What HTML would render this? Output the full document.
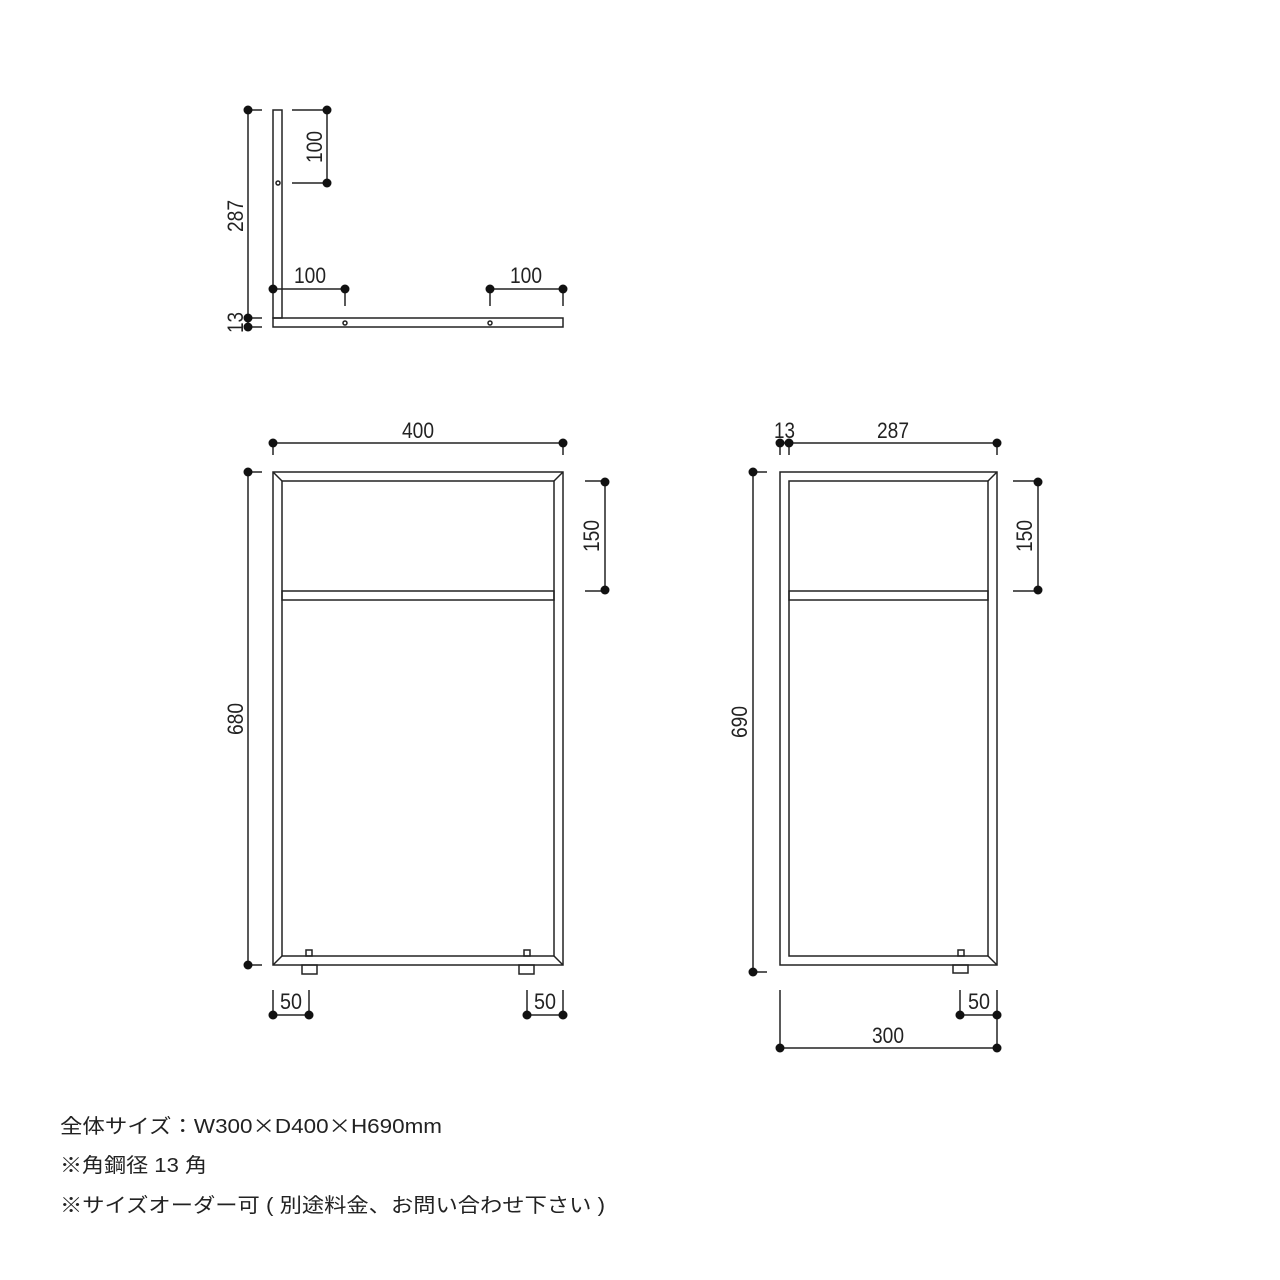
<!DOCTYPE html>
<html><head><meta charset="utf-8"><style>
html,body{margin:0;padding:0;background:#fff;}
svg{display:block;}
text{font-family:"Liberation Sans","Noto Sans CJK JP",sans-serif;fill:#222;}
.cjk{font-family:"Noto Sans CJK JP",sans-serif;}
</style></head><body>
<svg width="1280" height="1280" viewBox="0 0 1280 1280" xmlns="http://www.w3.org/2000/svg">
<g stroke="#222" stroke-width="1.5" fill="none">
<rect x="273" y="110" width="9" height="208"/>
<rect x="273" y="318" width="290" height="9"/>
<circle cx="278" cy="183" r="2"/>
<circle cx="345" cy="323" r="2"/>
<circle cx="490" cy="323" r="2"/>
<line x1="248" y1="110" x2="248" y2="327"/>
<line x1="248" y1="110" x2="262" y2="110"/>
<line x1="248" y1="318" x2="262" y2="318"/>
<line x1="248" y1="327" x2="262" y2="327"/>
<line x1="327" y1="110" x2="327" y2="183"/>
<line x1="292" y1="110" x2="327" y2="110"/>
<line x1="292" y1="183" x2="327" y2="183"/>
<line x1="273" y1="289" x2="345" y2="289"/>
<line x1="345" y1="289" x2="345" y2="306"/>
<line x1="490" y1="289" x2="563" y2="289"/>
<line x1="490" y1="289" x2="490" y2="306"/>
<line x1="563" y1="289" x2="563" y2="306"/>

<rect x="273" y="472" width="290" height="493"/>
<rect x="282" y="481" width="272" height="475"/>
<line x1="273" y1="472" x2="282" y2="481"/>
<line x1="563" y1="472" x2="554" y2="481"/>
<line x1="273" y1="965" x2="282" y2="956"/>
<line x1="563" y1="965" x2="554" y2="956"/>
<rect x="282" y="591" width="272" height="9"/>
<rect x="302" y="965" width="15" height="9"/>
<rect x="306" y="950" width="6" height="6"/>
<rect x="519" y="965" width="15" height="9"/>
<rect x="524" y="950" width="6" height="6"/>
<line x1="273" y1="443" x2="563" y2="443"/>
<line x1="273" y1="443" x2="273" y2="455"/>
<line x1="563" y1="443" x2="563" y2="455"/>
<line x1="248" y1="472" x2="248" y2="965"/>
<line x1="248" y1="472" x2="262" y2="472"/>
<line x1="248" y1="965" x2="262" y2="965"/>
<line x1="605" y1="481" x2="605" y2="591"/>
<line x1="585" y1="481" x2="605" y2="481"/>
<line x1="585" y1="591" x2="605" y2="591"/>
<line x1="273" y1="1015" x2="309" y2="1015"/>
<line x1="273" y1="990" x2="273" y2="1015"/>
<line x1="309" y1="990" x2="309" y2="1015"/>
<line x1="527" y1="1015" x2="563" y2="1015"/>
<line x1="527" y1="990" x2="527" y2="1015"/>
<line x1="563" y1="990" x2="563" y2="1015"/>

<rect x="780" y="472" width="217" height="493"/>
<rect x="789" y="481" width="199" height="475"/>
<line x1="997" y1="472" x2="988" y2="481"/>
<line x1="997" y1="965" x2="988" y2="956"/>
<rect x="789" y="591" width="199" height="9"/>
<rect x="953" y="965" width="15" height="8"/>
<rect x="958" y="950" width="6" height="6"/>
<line x1="780" y1="443" x2="997" y2="443"/>
<line x1="780" y1="443" x2="780" y2="455"/>
<line x1="789" y1="443" x2="789" y2="455"/>
<line x1="997" y1="443" x2="997" y2="455"/>
<line x1="753" y1="472" x2="753" y2="972"/>
<line x1="753" y1="472" x2="767" y2="472"/>
<line x1="753" y1="972" x2="767" y2="972"/>
<line x1="1038" y1="481" x2="1038" y2="591"/>
<line x1="1013" y1="481" x2="1038" y2="481"/>
<line x1="1013" y1="591" x2="1038" y2="591"/>
<line x1="960" y1="1015" x2="997" y2="1015"/>
<line x1="960" y1="990" x2="960" y2="1015"/>
<line x1="997" y1="990" x2="997" y2="1048"/>
<line x1="780" y1="1048" x2="997" y2="1048"/>
<line x1="780" y1="990" x2="780" y2="1048"/>
</g>
<g fill="#111">
<circle cx="248" cy="110" r="4.5"/><circle cx="248" cy="318" r="4.5"/><circle cx="248" cy="327" r="4.5"/>
<circle cx="327" cy="110" r="4.5"/><circle cx="327" cy="183" r="4.5"/>
<circle cx="273" cy="289" r="4.5"/><circle cx="345" cy="289" r="4.5"/>
<circle cx="490" cy="289" r="4.5"/><circle cx="563" cy="289" r="4.5"/>
<circle cx="273" cy="443" r="4.5"/><circle cx="563" cy="443" r="4.5"/>
<circle cx="248" cy="472" r="4.5"/><circle cx="248" cy="965" r="4.5"/>
<circle cx="605" cy="482" r="4.5"/><circle cx="605" cy="590" r="4.5"/>
<circle cx="273" cy="1015" r="4.5"/><circle cx="309" cy="1015" r="4.5"/>
<circle cx="527" cy="1015" r="4.5"/><circle cx="563" cy="1015" r="4.5"/>
<circle cx="780" cy="443" r="4.5"/><circle cx="789" cy="443" r="4.5"/><circle cx="997" cy="443" r="4.5"/>
<circle cx="753" cy="472" r="4.5"/><circle cx="753" cy="972" r="4.5"/>
<circle cx="1038" cy="482" r="4.5"/><circle cx="1038" cy="590" r="4.5"/>
<circle cx="960" cy="1015" r="4.5"/><circle cx="997" cy="1015" r="4.5"/>
<circle cx="780" cy="1048" r="4.5"/><circle cx="997" cy="1048" r="4.5"/>
</g>
<g font-size="22">
<text x="294" y="283" textLength="32" lengthAdjust="spacingAndGlyphs">100</text>
<text x="510" y="283" textLength="32" lengthAdjust="spacingAndGlyphs">100</text>
<text x="402" y="438" textLength="32" lengthAdjust="spacingAndGlyphs">400</text>
<text x="774" y="438" textLength="21" lengthAdjust="spacingAndGlyphs">13</text>
<text x="877" y="438" textLength="32" lengthAdjust="spacingAndGlyphs">287</text>
<text x="280" y="1009" textLength="22" lengthAdjust="spacingAndGlyphs">50</text>
<text x="534" y="1009" textLength="22" lengthAdjust="spacingAndGlyphs">50</text>
<text x="968" y="1009" textLength="22" lengthAdjust="spacingAndGlyphs">50</text>
<text x="872" y="1043" textLength="32" lengthAdjust="spacingAndGlyphs">300</text>
<text transform="translate(322,163) rotate(-90)" textLength="32" lengthAdjust="spacingAndGlyphs">100</text>
<text transform="translate(243,232) rotate(-90)" textLength="32" lengthAdjust="spacingAndGlyphs">287</text>
<text transform="translate(243,333) rotate(-90)" textLength="21" lengthAdjust="spacingAndGlyphs">13</text>
<text transform="translate(243,735) rotate(-90)" textLength="32" lengthAdjust="spacingAndGlyphs">680</text>
<text transform="translate(599,552) rotate(-90)" textLength="32" lengthAdjust="spacingAndGlyphs">150</text>
<text transform="translate(1032,552) rotate(-90)" textLength="32" lengthAdjust="spacingAndGlyphs">150</text>
<text transform="translate(747,738) rotate(-90)" textLength="32" lengthAdjust="spacingAndGlyphs">690</text>
</g>
<g font-size="20">
<text x="60" y="1133" textLength="382" lengthAdjust="spacingAndGlyphs">全体サイズ：W300<tspan class="cjk">×</tspan>D400<tspan class="cjk">×</tspan>H690mm</text>
<text x="60" y="1172" textLength="147" lengthAdjust="spacingAndGlyphs">※角鋼径 13 角</text>
<text x="60" y="1212" textLength="545" lengthAdjust="spacingAndGlyphs">※サイズオーダー可 ( 別途料金、お問い合わせ下さい )</text>
</g>
</svg>
</body></html>
